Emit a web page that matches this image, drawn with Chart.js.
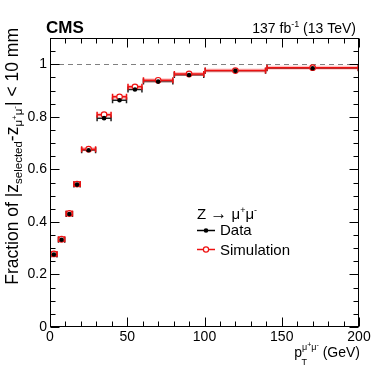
<!DOCTYPE html>
<html>
<head>
<meta charset="utf-8">
<script src="https://cdn.jsdelivr.net/npm/chart.js@4/dist/chart.umd.min.js"></script>
<style>
  html, body { margin: 0; padding: 0; background: #fff; }
</style>
</head>
<body>
<canvas id="chart" width="390" height="373"></canvas>
<script>
// bins in pT (GeV)
const binLow  = [0, 5, 10, 15, 20, 30, 40, 50, 60, 80, 100, 140];
const binHigh = [5, 10, 15, 20, 30, 40, 50, 60, 80, 100, 140, 200];
const dataVals = [0.276, 0.332, 0.430, 0.542, 0.673, 0.795, 0.863, 0.904, 0.934, 0.959, 0.975, 0.985];
const simVals  = [0.278, 0.334, 0.432, 0.544, 0.677, 0.808, 0.876, 0.914, 0.939, 0.963, 0.976, 0.987];
const xTicks = [0, 50, 100, 150, 200];
const yTicks = [0, 0.2, 0.4, 0.6, 0.8, 1];
const yTickLabels = ['0', '0.2', '0.4', '0.6', '0.8', '1'];

const FONT = '"Liberation Sans", Arial, sans-serif';

function binCenters() {
    return binLow.map((lo, i) => (lo + binHigh[i]) / 2);
}

function drawParts(ctx, x, y, parts) {
    let cx = x;
    parts.forEach(p => {
        ctx.font = (p.bold ? 'bold ' : '') + p.size + 'px ' + FONT;
        ctx.fillText(p.t, cx, y + (p.dy || 0));
        cx += ctx.measureText(p.t).width;
    });
    return cx - x;
}

function measureParts(ctx, parts) {
    let w = 0;
    parts.forEach(p => {
        ctx.font = (p.bold ? 'bold ' : '') + p.size + 'px ' + FONT;
        w += ctx.measureText(p.t).width;
    });
    return w;
}

const cmsPlugin = {
    id: 'cmsStyle',
    beforeDatasetsDraw(chart) {
        const ctx = chart.ctx;
        const xs = chart.scales.x, ys = chart.scales.y;
        const a = chart.chartArea;
        ctx.save();

        // reference line at 1
        const y1 = Math.round(ys.getPixelForValue(1)) + 0.5;
        ctx.strokeStyle = '#808080';
        ctx.lineWidth = 1;
        ctx.setLineDash([5, 4]);
        ctx.beginPath();
        ctx.moveTo(a.left, y1);
        ctx.lineTo(a.right, y1);
        ctx.stroke();
        ctx.setLineDash([]);

        // horizontal bin bars
        function bars(vals, color, band) {
            vals.forEach((v, i) => {
                const x1 = xs.getPixelForValue(binLow[i]);
                const x2 = xs.getPixelForValue(binHigh[i]);
                const y = ys.getPixelForValue(v);
                if (band) {
                    ctx.fillStyle = band;
                    ctx.fillRect(x1, y - 2, x2 - x1, 4);
                }
                ctx.strokeStyle = color;
                ctx.lineWidth = 1.5;
                ctx.beginPath();
                ctx.moveTo(x1, y);
                ctx.lineTo(x2, y);
                ctx.moveTo(x1 + 0.75, y - 3);
                ctx.lineTo(x1 + 0.75, y + 3);
                ctx.moveTo(x2 - 0.75, y - 3);
                ctx.lineTo(x2 - 0.75, y + 3);
                ctx.stroke();
            });
        }
        bars(dataVals, '#222222', null);
        bars(simVals, '#ee1111', 'rgba(255,120,120,0.45)');
        ctx.restore();
    },
    afterDraw(chart) {
        const ctx = chart.ctx;
        const xs = chart.scales.x, ys = chart.scales.y;
        const a = chart.chartArea;
        ctx.save();
        ctx.fillStyle = '#000';
        ctx.strokeStyle = '#000';
        ctx.lineWidth = 1;

        // frame
        const L = Math.round(a.left) + 0.5, R = Math.round(a.right) - 0.5;
        const T = Math.round(a.top) + 0.5, B = Math.round(a.bottom) - 0.5;
        ctx.strokeRect(L, T, R - L, B - T);

        // inward ticks on all sides
        ctx.beginPath();
        for (let v = 0; v <= 200; v += 10) {
            const px = Math.round(xs.getPixelForValue(v)) + 0.5;
            const len = v % 50 === 0 ? 9 : 5;
            ctx.moveTo(px, B); ctx.lineTo(px, B - len);
            ctx.moveTo(px, T); ctx.lineTo(px, T + len);
        }
        for (let k = 0; k <= 22; k++) {
            const v = k * 0.05;
            const py = Math.round(ys.getPixelForValue(v)) + 0.5;
            const len = k % 4 === 0 ? 9 : 5;
            ctx.moveTo(L, py); ctx.lineTo(L + len, py);
            ctx.moveTo(R, py); ctx.lineTo(R - len, py);
        }
        ctx.stroke();

        // header
        ctx.textAlign = 'left';
        ctx.textBaseline = 'alphabetic';
        drawParts(ctx, 46, 33, [{t: 'CMS', size: 17, bold: true}]);
        const lumi = [
            {t: '137 fb', size: 14},
            {t: '-1', size: 9, dy: -6},
            {t: ' (13 TeV)', size: 14}
        ];
        drawParts(ctx, 356 - measureParts(ctx, lumi), 32.5, lumi);

        // x title
        const xt = [
            {t: 'p', size: 14},
            {t: '\u03bc', size: 9, dy: -7},
            {t: '+', size: 7, dy: -10},
            {t: '\u03bc', size: 9, dy: -7},
            {t: '-', size: 7, dy: -10},
            {t: ' (GeV)', size: 14}
        ];
        const xw = measureParts(ctx, xt);
        const x0 = 360 - xw;
        drawParts(ctx, x0, 357, xt);
        ctx.font = '14px ' + FONT;
        const pw = ctx.measureText('p').width;
        ctx.font = '9px ' + FONT;
        ctx.fillText('T', x0 + pw - 0.5, 365);

        // y title (rotated)
        const yt = [
            {t: 'Fraction of |z', size: 17.5},
            {t: 'selected', size: 11.5, dy: 4},
            {t: '-z', size: 17.5},
            {t: '\u03bc', size: 11.5, dy: 4},
            {t: '+', size: 8, dy: -1},
            {t: '\u03bc', size: 11.5, dy: 4},
            {t: '-', size: 8, dy: -1},
            {t: '| < 10 mm', size: 17.5}
        ];
        const yw = measureParts(ctx, yt);
        ctx.save();
        ctx.translate(18, 28 + yw);
        ctx.rotate(-Math.PI / 2);
        drawParts(ctx, 0, 0, yt);
        ctx.restore();

        // legend
        drawParts(ctx, 197, 218.5, [
            {t: 'Z ', size: 15},
            {t: '\u2192', size: 17, dy: 0},
            {t: ' \u03bc', size: 15},
            {t: '+', size: 9, dy: -6},
            {t: '\u03bc', size: 15},
            {t: '-', size: 9, dy: -6}
        ]);
        ctx.lineWidth = 1.5;
        ctx.strokeStyle = '#000';
        ctx.beginPath(); ctx.moveTo(197, 230.5); ctx.lineTo(215, 230.5); ctx.stroke();
        ctx.beginPath(); ctx.arc(206, 230.5, 2.3, 0, Math.PI * 2); ctx.fill();
        ctx.strokeStyle = '#ee1111';
        ctx.beginPath(); ctx.moveTo(197, 249.5); ctx.lineTo(215, 249.5); ctx.stroke();
        ctx.fillStyle = '#fff';
        ctx.lineWidth = 1.2;
        ctx.beginPath(); ctx.arc(206, 249.5, 2.6, 0, Math.PI * 2); ctx.fill(); ctx.stroke();
        ctx.fillStyle = '#000';
        drawParts(ctx, 220, 235, [{t: 'Data', size: 15}]);
        drawParts(ctx, 220, 254.5, [{t: 'Simulation', size: 15}]);
        ctx.restore();
    }
};

const centers = binCenters();

new Chart(document.getElementById('chart'), {
    type: 'scatter',
    data: {
        datasets: [
            {
                label: 'Data',
                data: centers.map((x, i) => ({x: x, y: dataVals[i]})),
                pointStyle: 'circle',
                pointRadius: 2.3,
                pointBackgroundColor: '#000',
                pointBorderColor: '#000',
                pointBorderWidth: 0
            },
            {
                label: 'Simulation',
                data: centers.map((x, i) => ({x: x, y: simVals[i]})),
                pointStyle: 'circle',
                pointRadius: 2.8,
                pointBackgroundColor: '#fff',
                pointBorderColor: '#ee1111',
                pointBorderWidth: 1.2
            }
        ]
    },
    options: {
        responsive: false,
        animation: false,
        events: [],
        layout: { padding: { top: 38, right: 31, bottom: 0, left: 0 } },
        plugins: {
            legend: { display: false },
            tooltip: { enabled: false }
        },
        scales: {
            x: {
                type: 'linear',
                min: 0,
                max: 200,
                afterBuildTicks: s => { s.ticks = xTicks.map(v => ({value: v})); },
                afterFit: s => { s.height = 46; },
                ticks: {
                    color: '#000',
                    padding: 2,
                    maxRotation: 0,
                    font: { family: FONT, size: 14 }
                },
                grid: { display: false, drawTicks: false },
                border: { display: false }
            },
            y: {
                type: 'linear',
                min: 0,
                max: 1.1,
                afterBuildTicks: s => { s.ticks = yTicks.map(v => ({value: v})); },
                afterFit: s => { s.width = 50; },
                ticks: {
                    color: '#000',
                    padding: 3,
                    font: { family: FONT, size: 14 },
                    callback: (v, i) => yTickLabels[i]
                },
                grid: { display: false, drawTicks: false },
                border: { display: false }
            }
        }
    },
    plugins: [cmsPlugin]
});
</script>
</body>
</html>
